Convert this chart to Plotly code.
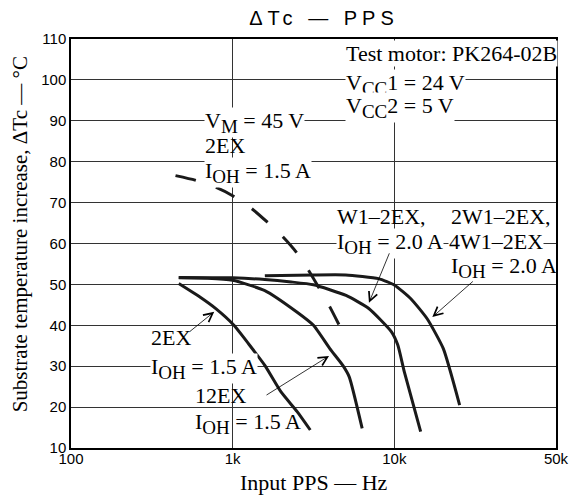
import plotly.graph_objects as go

# ---- data ----
# 2EX, IOH = 1.5 A at VM = 45 V (dashed)
dash_x = [443, 585, 790, 1018, 1315, 1641, 2037, 2472, 2951, 3436, 3990, 4540]
dash_y = [76.6, 75.5, 73.7, 71.5, 68.5, 65.2, 61.7, 57.9, 53.4, 49.0, 44.5, 40.2]
# 2EX, IOH = 1.5 A
a_x = [464, 627, 790, 1018, 1253, 1581, 1991, 2506, 3020]
a_y = [50.2, 46.9, 44.0, 40.0, 35.5, 30.2, 23.7, 18.9, 14.4]
# 12EX, IOH = 1.5 A
b_x = [464, 700, 1000, 1581, 2506, 3162, 3990, 4800, 5260, 6325]
b_y = [51.6, 51.5, 51.0, 48.5, 43.2, 40.0, 34.3, 30.2, 27.4, 14.8]
# W1-2EX, IOH = 2.0 A
c_x = [464, 1000, 1581, 2300, 3162, 5025, 6950, 9600, 10520, 11530, 14550]
c_y = [51.7, 51.6, 51.2, 50.6, 49.9, 47.3, 44.1, 38.4, 35.1, 28.6, 14.0]
# 2W1-2EX, 4W1-2EX, IOH = 2.0 A
d_x = [1581, 3162, 5000, 7980, 10050, 12650, 15960, 20090, 25350]
d_y = [52.1, 52.3, 52.3, 51.4, 49.8, 46.5, 41.6, 34.3, 20.5]

x_tickvals = [100, 1000, 10000, 100000]
x_ticktext = ["100", "1k", "10k", "50k"]
y_tickvals = [10, 20, 30, 40, 50, 60, 70, 80, 90, 100, 110]

SERIF = "Liberation Serif, Times New Roman, serif"
SANS = "Liberation Sans, Arial, sans-serif"
FS = 22  # serif label size

W, H = 581, 499
L, R, T, B = 71, 12, 39, 51
PW, PH = W - L - R, H - T - B


def px(xp):
    return (xp - L) / PW


def py(yp):
    return (H - B - yp) / PH


def sub(s):
    return '<sub><span style="font-size:%dpx">%s</span></sub>' % (FS - 3, s)


fig = go.Figure()
solid = dict(color="#1a1a1a", width=3, shape="spline", smoothing=0.5)
for xs, ys in [(a_x, a_y), (b_x, b_y), (c_x, c_y), (d_x, d_y)]:
    fig.add_trace(go.Scatter(x=xs, y=ys, mode="lines", line=solid,
                             showlegend=False, hoverinfo="skip"))
fig.add_trace(go.Scatter(x=dash_x, y=dash_y, mode="lines",
                         line=dict(color="#1a1a1a", width=3, dash="21px,21px",
                                   shape="spline", smoothing=0.5),
                         showlegend=False, hoverinfo="skip"))

# text labels: (text, left edge px, centre px, white background)
labels = [
    ("Test motor: PK264-02B", 352, 53, True),
    ("V" + sub("CC") + "1 = 24 V", 352, 81, True),
    ("V" + sub("CC") + "2 = 5 V", 352, 104, True),
    ("V" + sub("M") + " = 45 V", 208, 120, True),
    ("2EX", 208, 145, False),
    ("I" + sub("OH") + " = 1.5 A", 208, 170, True),
    ("W1\u20132EX,", 343, 216, False),
    ("I" + sub("OH") + " = 2.0 A", 343, 241, True),
    ("2W1\u20132EX,", 460, 216, False),
    ("4W1\u20132EX", 458, 241, True),
    ("I" + sub("OH") + " = 2.0 A", 460, 264, False),
    ("2EX", 152, 337, False),
    ("I" + sub("OH") + " = 1.5 A", 152, 365, True),
    ("12EX", 197, 395, False),
    ("I" + sub("OH") + " = 1.5 A", 197, 420, False),
]
for t, lx, cy, bg in labels:
    off = 3 if "sub" in t else 0
    fig.add_annotation(x=px(lx), y=py(cy + off), xref="paper", yref="paper",
                       text=t, showarrow=False, xanchor="left", yanchor="middle",
                       font=dict(family=SERIF, size=FS, color="black"),
                       bgcolor="white" if bg else "rgba(0,0,0,0)", borderpad=0)

# arrows: head (log10 x, y), tail offset in px
arrows = [
    (3.843, 45.5, 21, -51),
    (4.235, 42.0, 42, -37),
    (2.886, 43.3, -26, 21),
    (3.596, 32.5, -64, 40),
]
for hx, hy, ax, ay in arrows:
    fig.add_annotation(x=hx, y=hy, xref="x", yref="y", text="", showarrow=True,
                       ax=ax, ay=ay, arrowhead=5, arrowsize=2.2, arrowwidth=0.8,
                       arrowcolor="black")

# axis titles
fig.add_annotation(x=px(321), y=py(483), xref="paper", yref="paper",
                   text="Input PPS \u2014 Hz", showarrow=False,
                   xanchor="center", yanchor="middle",
                   font=dict(family=SERIF, size=FS, color="black"))
fig.add_annotation(x=px(19), y=py(234), xref="paper", yref="paper",
                   text="Substrate temperature increase, \u0394Tc \u2014 \u00b0C",
                   showarrow=False, textangle=-90, xanchor="center", yanchor="middle",
                   font=dict(family=SERIF, size=21, color="black"))

fig.update_layout(
    width=W, height=H,
    margin=dict(l=L, r=R, t=T, b=B),
    paper_bgcolor="white", plot_bgcolor="white",
    title=dict(text='<span style="letter-spacing:5px">\u0394Tc \u2014 PPS</span>',
               x=324 / W, xanchor="center",
               y=1 - 18 / H, yanchor="middle",
               font=dict(family=SANS, size=20, color="black")),
    font=dict(family=SANS, color="black"),
)
fig.update_xaxes(type="log", range=[2, 5], tickvals=x_tickvals, ticktext=x_ticktext,
                 showgrid=True, gridcolor="#333", gridwidth=1,
                 showline=True, linecolor="black", linewidth=1.5, mirror=True,
                 ticks="", ticklabelstandoff=-4,
                 tickfont=dict(family=SANS, size=15, color="black"),
                 zeroline=False)
fig.update_yaxes(range=[10, 110], tickvals=y_tickvals,
                 showgrid=True, gridcolor="#333", gridwidth=1,
                 showline=True, linecolor="black", linewidth=1.5, mirror=True,
                 ticks="", tickfont=dict(family=SANS, size=15, color="black"),
                 zeroline=False)

fig.write_html("out.html", config={"displayModeBar": False},
               post_script="document.body.style.margin='0';")
